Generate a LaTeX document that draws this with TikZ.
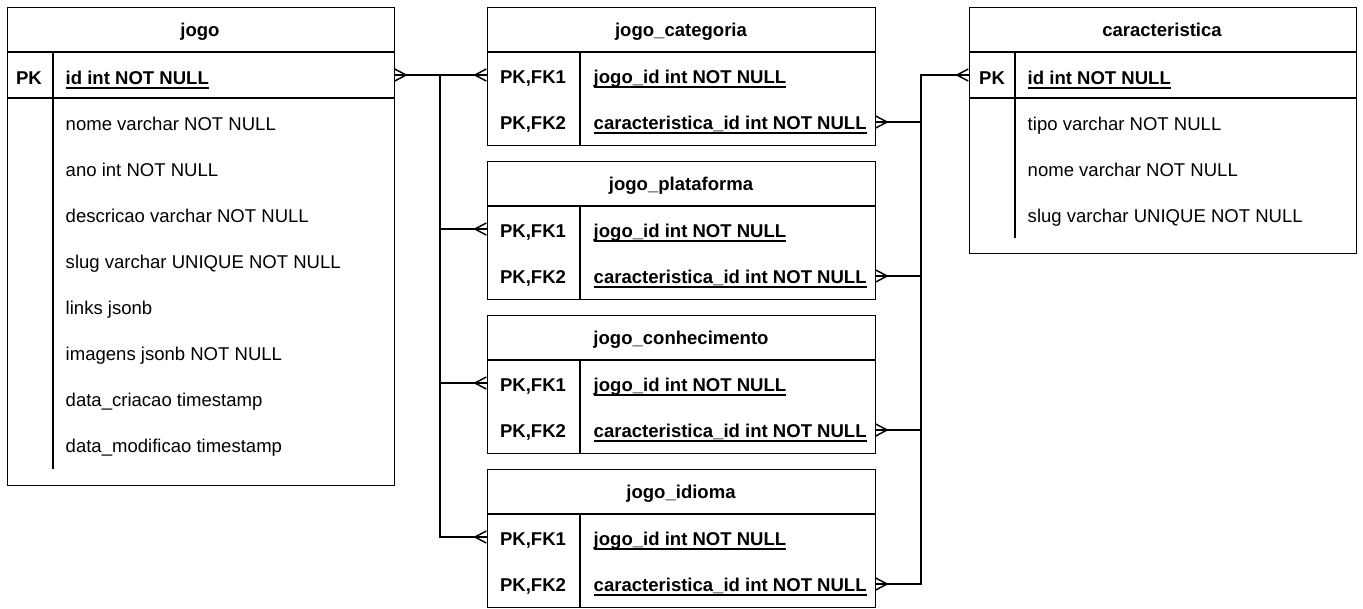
\documentclass[tikz,border=0pt]{standalone}
\usepackage{fontspec}
\setmainfont{Liberation Sans}
\usetikzlibrary{arrows.meta, positioning, calc}

\newcommand{\erfont}{\fontsize{13.9pt}{16pt}\selectfont}
\newcommand{\keyfield}[1]{\setbox0\hbox{#1}\rlap{\rule[-3.4pt]{\wd0}{0.9pt}}\box0}

\begin{document}
\begin{tikzpicture}[
    x=0.75pt, y=-0.75pt,
    line width=1.1pt,
    many/.tip={Straight Barb[reversed, length=8.5pt, width=9pt, line width=1.1pt]},
    rel/.style={preaction={draw, arrows=-}},
    tbl/.style={rectangle, draw, anchor=north west, inner sep=0pt},
    title/.style={font=\erfont\bfseries, anchor=base},
    key/.style={font=\erfont\bfseries, anchor=base},
    field/.style={font=\erfont, anchor=base west, inner sep=0pt},
    pkfield/.style={field, font=\erfont\bfseries},
]
    \useasboundingbox (0,0) rectangle (1363,608);

    % jogo
    \node[tbl, minimum width=290.25pt, minimum height=358.5pt] (jogo) at (7,7) {};
    \draw (7,52) -- (394,52);
    \draw (7,98) -- (394,98);
    \draw (53,52) -- (53,469);
    \node[title] (jogo-title) at (200,36) {jogo};
    \node[key] (jogo-pklabel) at (29,84) {PK};
    \node[pkfield] (jogo-id) at (65,84) {\keyfield{id int NOT NULL}};
    \foreach \f [count=\i] in {nome varchar NOT NULL, ano int NOT NULL,
        descricao varchar NOT NULL, slug varchar UNIQUE NOT NULL, links jsonb,
        imagens jsonb NOT NULL, data\_criacao timestamp, data\_modificao timestamp}
        \node[field] (jogo-f\i) at (65,84+46*\i) {\f};
    \coordinate (jogo-pk) at (394,75);

    % caracteristica
    \node[tbl, minimum width=290.25pt, minimum height=184.5pt] (car) at (969,7) {};
    \draw (969,52) -- (1356,52);
    \draw (969,98) -- (1356,98);
    \draw (1015,52) -- (1015,238);
    \node[title] (car-title) at (1162,36) {caracteristica};
    \node[key] (car-pklabel) at (992,84) {PK};
    \node[pkfield] (car-id) at (1027,84) {\keyfield{id int NOT NULL}};
    \foreach \f [count=\i] in {tipo varchar NOT NULL, nome varchar NOT NULL,
        slug varchar UNIQUE NOT NULL}
        \node[field] (car-f\i) at (1027,84+46*\i) {\f};
    \coordinate (car-pk) at (969,75);

    % join tables
    \foreach \tname/\ttitle/\ttop in {cat/jogo\_categoria/7, plat/jogo\_plataforma/161,
        con/jogo\_conhecimento/315, idi/jogo\_idioma/469} {
        \node[tbl, minimum width=291pt, minimum height=103.5pt] (\tname) at (487,\ttop) {};
        \draw (487,\ttop+45) -- (875,\ttop+45);
        \draw (580,\ttop+45) -- (580,\ttop+138);
        \node[title] (\tname-title) at (681,\ttop+29) {\ttitle};
        \node[key] (\tname-k1) at (533,\ttop+76) {PK,FK1};
        \node[key] (\tname-k2) at (533,\ttop+122) {PK,FK2};
        \node[pkfield] (\tname-f1) at (593,\ttop+76) {\keyfield{jogo\_id int NOT NULL}};
        \node[pkfield] (\tname-f2) at (593,\ttop+122) {\keyfield{caracteristica\_id int NOT NULL}};
        \coordinate (\tname-fk1) at (487,\ttop+68);
        \coordinate (\tname-fk2) at (875,\ttop+115);
    }

    % relations
    \coordinate (jtrunk) at (440,75);
    \coordinate (ctrunk) at (921,75);
    \draw[rel, many-many] (jogo-pk) -- (cat-fk1);
    \draw[rel, -many] (jtrunk) |- (idi-fk1);
    \draw[rel, -many] (jtrunk |- plat-fk1) -- (plat-fk1);
    \draw[rel, -many] (jtrunk |- con-fk1) -- (con-fk1);
    \draw[rel, many-many] (cat-fk2) -| (ctrunk) -- (car-pk);
    \draw[rel, many-] (plat-fk2) -- (ctrunk |- plat-fk2);
    \draw[rel, many-] (con-fk2) -- (ctrunk |- con-fk2);
    \draw[rel, many-] (idi-fk2) -| (ctrunk);
\end{tikzpicture}
\end{document}
